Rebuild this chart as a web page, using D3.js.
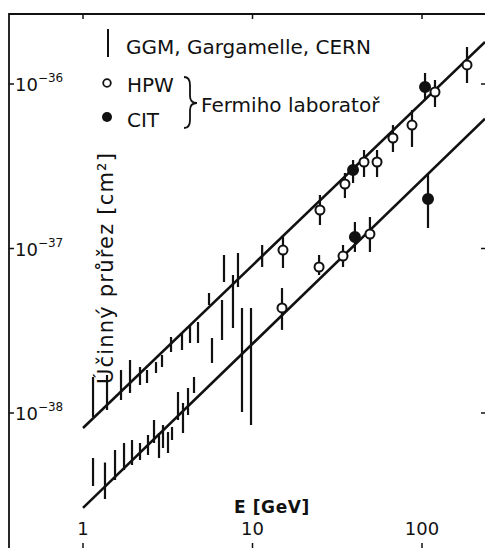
<!DOCTYPE html>
<html>
<head>
<meta charset="utf-8">
<script src="https://cdn.jsdelivr.net/npm/d3@7"></script>
<style>
  html, body { margin: 0; padding: 0; background: #fff; }
  svg { display: block; }
  text { font-family: "DejaVu Sans", sans-serif; fill: #111; }
</style>
</head>
<body>
<svg id="chart" width="485" height="548"></svg>
<script>
// ---- data (E in GeV, cross section in units of 1e-38 cm^2) ----
// GGM (Gargamelle, CERN) neutrino: energy, low, high
const ggmNuE   = [1.146, 1.386, 1.676, 1.894, 2.169, 2.386, 2.696, 2.925, 3.306, 3.838, 4.279, 4.770, 5.539, 6.61, 6.79, 7.67, 8.21, 11.4];
const ggmNuLo  = [0.946, 1.043, 1.20, 1.323, 1.48, 1.522, 1.751, 1.904, 2.349, 2.415, 2.665, 2.665, 4.535, 2.778, 6.257, 3.287, 5.834, 7.72];
const ggmNuHi  = [1.655, 1.702, 1.826, 2.10, 1.904, 1.826, 2.04, 2.253, 2.897, 3.064, 3.427, 3.574, 5.364, 4.863, 9.13, 6.90, 9.39, 10.5];
// GGM antineutrino
const ggmAnuE  = [1.146, 1.348, 1.545, 1.746, 1.946, 2.169, 2.418, 2.624, 2.808, 2.965, 3.173, 3.351, 3.635, 3.89, 4.165, 4.518, 5.768, 8.67, 9.80];
const ggmAnuLo = [0.36, 0.30, 0.3915, 0.450, 0.483, 0.518, 0.5556, 0.657, 0.5326, 0.6127, 0.5713, 0.685, 0.907, 0.7557, 0.972, 1.323, 2.013, 1.014, 0.845];
const ggmAnuHi = [0.5326, 0.50, 0.5957, 0.657, 0.685, 0.657, 0.735, 0.907, 0.7557, 0.845, 0.766, 0.822, 1.342, 1.15, 1.419, 1.655, 2.857, 4.35, 4.35];
// HPW (Fermilab) neutrino
const hpwNuE   = [15.13, 25.0, 35.1, 45.5, 54.3, 67.4, 87.3, 119.3, 184.3];
const hpwNuV   = [9.79, 17.14, 24.67, 33.56, 33.56, 46.96, 56.3, 89.4, 130.5];
const hpwNuLo  = [7.61, 13.9, 20.28, 27.2, 27.2, 38.6, 41.4, 72.5, 101.4];
const hpwNuHi  = [12.08, 21.15, 28.77, 39.7, 39.7, 56.3, 69.5, 105.8, 167.9];
// CIT (Fermilab) neutrino
const citNuE   = [39.2, 104.2];
const citNuV   = [30.0, 95.9];
const citNuLo  = [25.0, 79.9];
const citNuHi  = [34.5, 116.7];
// HPW antineutrino
const hpwAnuE  = [14.93, 24.7, 34.2, 49.3];
const hpwAnuV  = [4.35, 7.72, 9.00, 12.25];
const hpwAnuLo = [3.20, 6.90, 7.72, 9.52];
const hpwAnuHi = [5.75, 9.13, 10.50, 15.54];
// CIT antineutrino
const citAnuE  = [40.2, 108.5];
const citAnuV  = [11.75, 20.0];
const citAnuLo = [9.52, 13.32];
const citAnuHi = [14.49, 28.77];
// fitted lines sigma = k * E (endpoints)
const nuLine   = [[1, 0.81], [235.5, 180]];
const anuLine  = [[1, 0.265], [235.5, 61.5]];
// ticks
const xTicks = [1, 10, 100];
const xTickLabels = ["1", "10", "100"];
const yTicks = [1, 10, 100];
const yTickExp = ["\u221238", "\u221237", "\u221236"];

// ---- drawing ----
const svg = d3.select("#chart");
const x = d3.scaleLog().domain([1, 100]).range([83, 422]);
const y = d3.scaleLog().domain([1, 100]).range([413, 84]);

const frameL = 9, frameT = 14, W = 485, H = 548;

// frame
svg.append("path")
  .attr("d", `M${frameL},${H} L${frameL},${frameT} L${W},${frameT}`)
  .attr("fill", "none").attr("stroke", "#111").attr("stroke-width", 1.8);

// top ticks & bottom ticks
xTicks.forEach(v => {
  svg.append("line").attr("x1", x(v)).attr("x2", x(v)).attr("y1", frameT).attr("y2", frameT + 5)
    .attr("stroke", "#111").attr("stroke-width", 1.5);
  svg.append("line").attr("x1", x(v)).attr("x2", x(v)).attr("y1", H - 5).attr("y2", H)
    .attr("stroke", "#111").attr("stroke-width", 1.5);
});
xTicks.forEach((v, i) => {
  svg.append("text").attr("x", x(v)).attr("y", 535).attr("text-anchor", "middle")
    .attr("font-size", 18).text(xTickLabels[i]);
});

// left & right ticks
yTicks.forEach((v, i) => {
  svg.append("line").attr("x1", frameL).attr("x2", frameL + 5).attr("y1", y(v)).attr("y2", y(v))
    .attr("stroke", "#111").attr("stroke-width", 1.5);
  svg.append("line").attr("x1", W - 4).attr("x2", W).attr("y1", y(v)).attr("y2", y(v))
    .attr("stroke", "#111").attr("stroke-width", 1.5);
  const t = svg.append("text").attr("x", 15).attr("y", y(v) + 7).attr("font-size", 18);
  t.append("tspan").text("10");
  t.append("tspan").attr("dy", -9).attr("font-size", 12).text(yTickExp[i]);
});

// axis titles
svg.append("text").attr("x", 234).attr("y", 513).attr("font-size", 17)
  .attr("font-weight", "bold").attr("letter-spacing", 0.6).text("E [GeV]");
svg.append("text")
  .attr("transform", `translate(113, 268) rotate(-90)`)
  .attr("text-anchor", "middle").attr("font-size", 21).attr("letter-spacing", 1.2)
  .text("Účinný průřez [cm²]");

// fitted lines
const line = d3.line().x(d => x(d[0])).y(d => y(d[1]));
[nuLine, anuLine].forEach(L => {
  svg.append("path").attr("d", line(L)).attr("fill", "none")
    .attr("stroke", "#111").attr("stroke-width", 2.6);
});

// error bars helper
function bars(E, lo, hi) {
  E.forEach((e, i) => {
    svg.append("line").attr("x1", x(e)).attr("x2", x(e))
      .attr("y1", y(lo[i])).attr("y2", y(hi[i]))
      .attr("stroke", "#111").attr("stroke-width", 2.2);
  });
}
bars(ggmNuE, ggmNuLo, ggmNuHi);
bars(ggmAnuE, ggmAnuLo, ggmAnuHi);
bars(hpwNuE, hpwNuLo, hpwNuHi);
bars(citNuE, citNuLo, citNuHi);
bars(hpwAnuE, hpwAnuLo, hpwAnuHi);
bars(citAnuE, citAnuLo, citAnuHi);

function pts(E, V, filled) {
  E.forEach((e, i) => {
    svg.append("circle").attr("cx", x(e)).attr("cy", y(V[i]))
      .attr("r", filled ? 5 : 4.5)
      .attr("fill", filled ? "#111" : "#fff")
      .attr("stroke", "#111").attr("stroke-width", 2);
  });
}
pts(hpwNuE, hpwNuV, false);
pts(hpwAnuE, hpwAnuV, false);
pts(citNuE, citNuV, true);
pts(citAnuE, citAnuV, true);

// legend
svg.append("line").attr("x1", 108).attr("x2", 108).attr("y1", 29).attr("y2", 57)
  .attr("stroke", "#111").attr("stroke-width", 2);
svg.append("text").attr("x", 126).attr("y", 54).attr("font-size", 20).text("GGM, Gargamelle, CERN");
svg.append("circle").attr("cx", 107).attr("cy", 83).attr("r", 3.8)
  .attr("fill", "#fff").attr("stroke", "#111").attr("stroke-width", 1.8);
svg.append("text").attr("x", 127).attr("y", 92).attr("font-size", 20).text("HPW");
svg.append("circle").attr("cx", 107).attr("cy", 117).attr("r", 5).attr("fill", "#111");
svg.append("text").attr("x", 127).attr("y", 127).attr("font-size", 20).text("CIT");
svg.append("path")
  .attr("d", "M184,77 Q190,77 190,85 L190,96 Q190,103 197,103 Q190,103 190,110 L190,120 Q190,128 184,128")
  .attr("fill", "none").attr("stroke", "#111").attr("stroke-width", 1.8);
svg.append("text").attr("x", 201).attr("y", 112).attr("font-size", 20).text("Fermiho laboratoř");
</script>
</body>
</html>
